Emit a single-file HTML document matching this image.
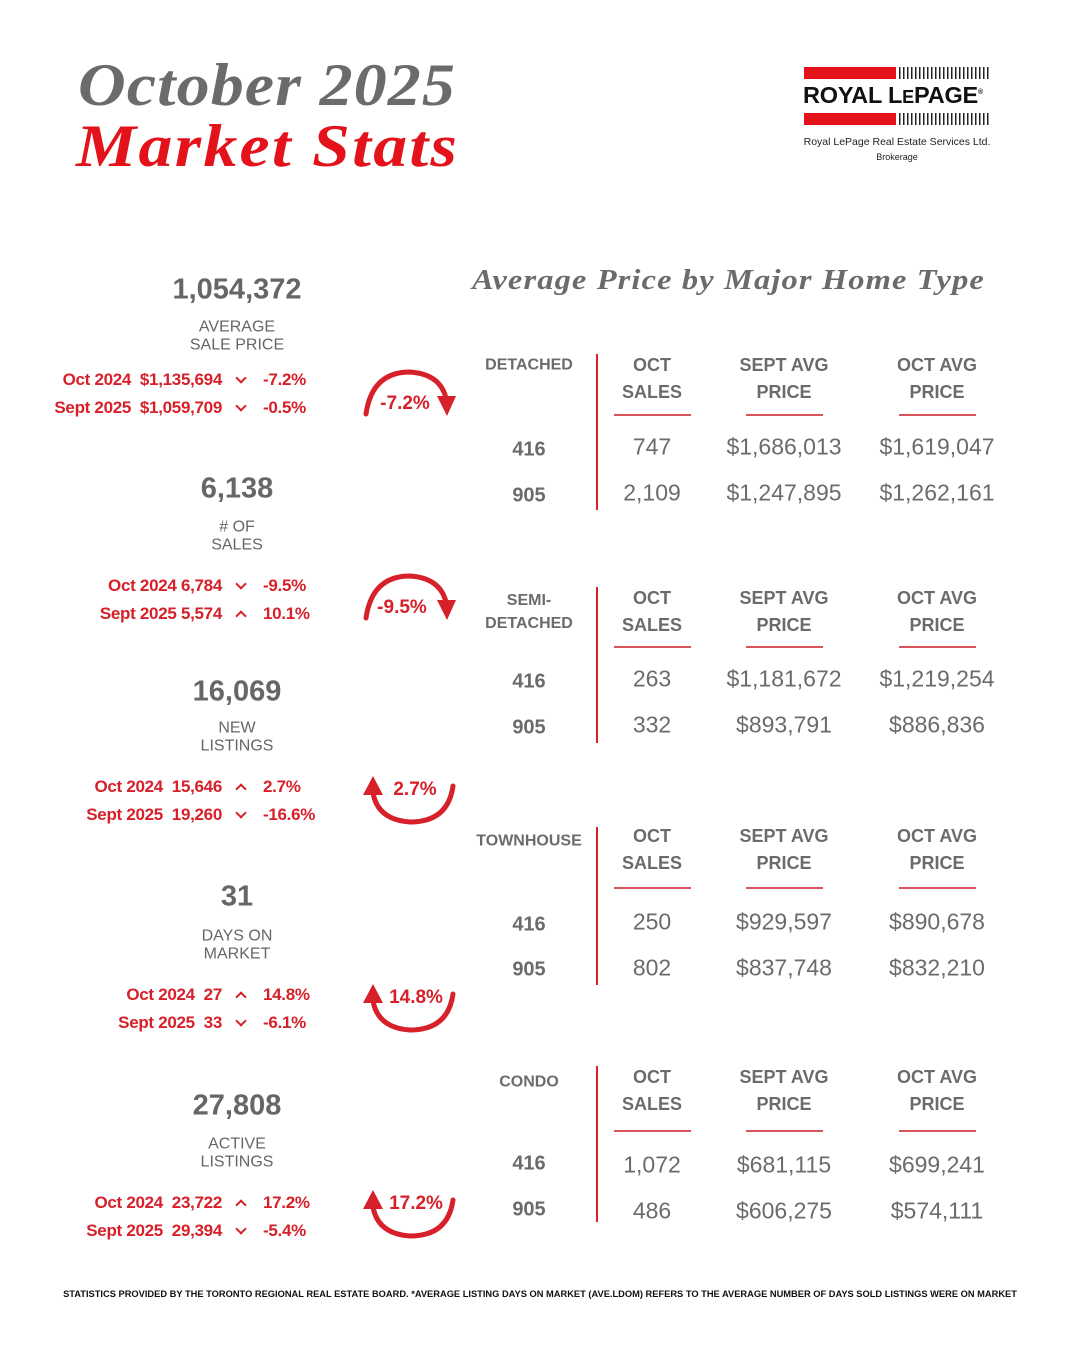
<!DOCTYPE html>
<html><head><meta charset="utf-8"><style>
*{margin:0;padding:0;box-sizing:border-box}
body{width:1080px;height:1350px;background:#fff;position:relative;overflow:hidden;font-family:"Liberation Sans",sans-serif;color:#666}
.a{position:absolute;white-space:nowrap}
.c{position:absolute;white-space:nowrap;transform:translate(-50%,-50%);text-align:center}
.t1{left:78px;top:55px;font:italic bold 60px/1 "Liberation Serif",serif;color:#6b6b6b;letter-spacing:1px;transform-origin:0 0;transform:scaleX(1.10)}
.t2{left:76px;top:116px;font:italic bold 60px/1 "Liberation Serif",serif;color:#e3121b;letter-spacing:2px;transform-origin:0 0;transform:scaleX(1.13)}
.big{font-size:29px;font-weight:bold;color:#666}
.lab{font-size:16px;color:#666;line-height:17.5px}
.red{font-size:17px;font-weight:bold;color:#d6202a;letter-spacing:-0.3px}
.ar{font-size:19px;font-weight:bold;color:#d6202a}
.h{font-size:18px;font-weight:bold;color:#6b6b6b;line-height:27px}
.ty{font-size:16px;font-weight:bold;color:#6b6b6b;line-height:23px}
.rw{font-size:20px;font-weight:bold;color:#6b6b6b}
.v{font-size:23px;color:#6b6b6b}
.ul{position:absolute;height:2px;background:#d9545b}
.vl{position:absolute;width:2px;background:#d6202a;left:596px}
.dn,.up{position:absolute;width:8px;height:8px;border-right:2px solid #d6202a;border-bottom:2px solid #d6202a}
.dn{transform:rotate(45deg)}
.up{transform:rotate(-135deg)}
</style></head><body>
<div class="a t1">October 2025</div>
<div class="a t2">Market Stats</div>

<!-- logo -->
<div class="a" style="left:804px;top:67px;width:92px;height:12px;background:#e3121b"></div>
<div class="a" style="left:804px;top:113px;width:92px;height:12px;background:#e3121b"></div>
<div class="a" style="left:899px;top:67px;width:92px;height:12px;background:repeating-linear-gradient(90deg,#222 0 1.5px,#fff 1.5px 4px)"></div>
<div class="a" style="left:899px;top:113px;width:92px;height:12px;background:repeating-linear-gradient(90deg,#222 0 1.5px,#fff 1.5px 4px)"></div>
<div class="a" style="left:803px;top:84px;font:bold 23.5px/1 'Liberation Sans',sans-serif;color:#111;letter-spacing:-0.2px">ROYAL L<span style="font-size:18px">E</span>PAGE<sup style="font-size:7px">®</sup></div>
<div class="c" style="left:897px;top:142px;font-size:10.5px;color:#222">Royal LePage Real Estate Services Ltd.</div>
<div class="c" style="left:897px;top:157px;font-size:9px;color:#222">Brokerage</div>

<div class="a" style="left:472px;top:266px;font:italic bold 29px/1 'Liberation Serif',serif;color:#6b6b6b;letter-spacing:1px;transform-origin:0 0;transform:scaleX(1.12)">Average Price by Major Home Type</div>

<!-- left stats -->
<div class="c big" style="left:237px;top:290px">1,054,372</div>
<div class="c lab" style="left:237px;top:336px">AVERAGE<br>SALE PRICE</div>
<div class="a red" style="right:858px;top:370px">Oct 2024&nbsp; $1,135,694</div><div class="dn" style="left:237px;top:374px"></div><div class="a red" style="left:263px;top:370px">-7.2%</div>
<div class="a red" style="right:858px;top:398px">Sept 2025&nbsp; $1,059,709</div><div class="dn" style="left:237px;top:402px"></div><div class="a red" style="left:263px;top:398px">-0.5%</div>

<div class="c big" style="left:237px;top:489px">6,138</div>
<div class="c lab" style="left:237px;top:536px"># OF<br>SALES</div>
<div class="a red" style="right:858px;top:576px">Oct 2024 6,784</div><div class="dn" style="left:237px;top:580px"></div><div class="a red" style="left:263px;top:576px">-9.5%</div>
<div class="a red" style="right:858px;top:604px">Sept 2025 5,574</div><div class="up" style="left:237px;top:612px"></div><div class="a red" style="left:263px;top:604px">10.1%</div>

<div class="c big" style="left:237px;top:692px">16,069</div>
<div class="c lab" style="left:237px;top:737px">NEW<br>LISTINGS</div>
<div class="a red" style="right:858px;top:777px">Oct 2024&nbsp; 15,646</div><div class="up" style="left:237px;top:785px"></div><div class="a red" style="left:263px;top:777px">2.7%</div>
<div class="a red" style="right:858px;top:805px">Sept 2025&nbsp; 19,260</div><div class="dn" style="left:237px;top:809px"></div><div class="a red" style="left:263px;top:805px">-16.6%</div>

<div class="c big" style="left:237px;top:897px">31</div>
<div class="c lab" style="left:237px;top:945px">DAYS ON<br>MARKET</div>
<div class="a red" style="right:858px;top:985px">Oct 2024&nbsp; 27</div><div class="up" style="left:237px;top:993px"></div><div class="a red" style="left:263px;top:985px">14.8%</div>
<div class="a red" style="right:858px;top:1013px">Sept 2025&nbsp; 33</div><div class="dn" style="left:237px;top:1017px"></div><div class="a red" style="left:263px;top:1013px">-6.1%</div>

<div class="c big" style="left:237px;top:1106px">27,808</div>
<div class="c lab" style="left:237px;top:1153px">ACTIVE<br>LISTINGS</div>
<div class="a red" style="right:858px;top:1193px">Oct 2024&nbsp; 23,722</div><div class="up" style="left:237px;top:1201px"></div><div class="a red" style="left:263px;top:1193px">17.2%</div>
<div class="a red" style="right:858px;top:1221px">Sept 2025&nbsp; 29,394</div><div class="dn" style="left:237px;top:1225px"></div><div class="a red" style="left:263px;top:1221px">-5.4%</div>

<!-- arrows -->
<svg class="a" style="left:0;top:0" width="1080" height="1350">
<g fill="none" stroke="#d6202a" stroke-width="5" stroke-linecap="round">
<path d="M366 414 Q372 372 410 372 Q440 374 446 398"/>
<path d="M366 618 Q372 576 410 576 Q440 578 446 602"/>
<path d="M453 786 Q448 822 410 822 Q378 820 373 793"/>
<path d="M453 994 Q448 1030 410 1030 Q378 1028 373 1001"/>
<path d="M453 1200 Q448 1236 410 1236 Q378 1234 373 1207"/>
</g>
<g fill="#d6202a">
<polygon points="437,396 456,396 447,416"/>
<polygon points="437,600 456,600 447,620"/>
<polygon points="363,795 383,795 373,776"/>
<polygon points="363,1003 383,1003 373,984"/>
<polygon points="363,1209 383,1209 373,1190"/>
</g>
</svg>
<div class="c ar" style="left:405px;top:404px">-7.2%</div>
<div class="c ar" style="left:402px;top:608px">-9.5%</div>
<div class="c ar" style="left:415px;top:790px">2.7%</div>
<div class="c ar" style="left:416px;top:998px">14.8%</div>
<div class="c ar" style="left:416px;top:1204px">17.2%</div>

<!-- detached -->
<div class="vl" style="top:354px;height:156px"></div>
<div class="c ty" style="left:529px;top:365px">DETACHED</div>
<div class="c h" style="left:652px;top:379px">OCT<br>SALES</div>
<div class="c h" style="left:784px;top:379px">SEPT AVG<br>PRICE</div>
<div class="c h" style="left:937px;top:379px">OCT AVG<br>PRICE</div>
<div class="ul" style="left:614px;width:77px;top:414px"></div><div class="ul" style="left:746px;width:77px;top:414px"></div><div class="ul" style="left:899px;width:77px;top:414px"></div>
<div class="c rw" style="left:529px;top:450px">416</div><div class="c v" style="left:652px;top:447px">747</div><div class="c v" style="left:784px;top:447px">$1,686,013</div><div class="c v" style="left:937px;top:447px">$1,619,047</div>
<div class="c rw" style="left:529px;top:496px">905</div><div class="c v" style="left:652px;top:493px">2,109</div><div class="c v" style="left:784px;top:493px">$1,247,895</div><div class="c v" style="left:937px;top:493px">$1,262,161</div>

<!-- semi -->
<div class="vl" style="top:587px;height:156px"></div>
<div class="c ty" style="left:529px;top:612px">SEMI-<br>DETACHED</div>
<div class="c h" style="left:652px;top:612px">OCT<br>SALES</div>
<div class="c h" style="left:784px;top:612px">SEPT AVG<br>PRICE</div>
<div class="c h" style="left:937px;top:612px">OCT AVG<br>PRICE</div>
<div class="ul" style="left:614px;width:77px;top:646px"></div><div class="ul" style="left:746px;width:77px;top:646px"></div><div class="ul" style="left:899px;width:77px;top:646px"></div>
<div class="c rw" style="left:529px;top:682px">416</div><div class="c v" style="left:652px;top:679px">263</div><div class="c v" style="left:784px;top:679px">$1,181,672</div><div class="c v" style="left:937px;top:679px">$1,219,254</div>
<div class="c rw" style="left:529px;top:728px">905</div><div class="c v" style="left:652px;top:725px">332</div><div class="c v" style="left:784px;top:725px">$893,791</div><div class="c v" style="left:937px;top:725px">$886,836</div>

<!-- townhouse -->
<div class="vl" style="top:827px;height:158px"></div>
<div class="c ty" style="left:529px;top:841px">TOWNHOUSE</div>
<div class="c h" style="left:652px;top:850px">OCT<br>SALES</div>
<div class="c h" style="left:784px;top:850px">SEPT AVG<br>PRICE</div>
<div class="c h" style="left:937px;top:850px">OCT AVG<br>PRICE</div>
<div class="ul" style="left:614px;width:77px;top:887px"></div><div class="ul" style="left:746px;width:77px;top:887px"></div><div class="ul" style="left:899px;width:77px;top:887px"></div>
<div class="c rw" style="left:529px;top:925px">416</div><div class="c v" style="left:652px;top:922px">250</div><div class="c v" style="left:784px;top:922px">$929,597</div><div class="c v" style="left:937px;top:922px">$890,678</div>
<div class="c rw" style="left:529px;top:970px">905</div><div class="c v" style="left:652px;top:968px">802</div><div class="c v" style="left:784px;top:968px">$837,748</div><div class="c v" style="left:937px;top:968px">$832,210</div>

<!-- condo -->
<div class="vl" style="top:1066px;height:156px"></div>
<div class="c ty" style="left:529px;top:1082px">CONDO</div>
<div class="c h" style="left:652px;top:1091px">OCT<br>SALES</div>
<div class="c h" style="left:784px;top:1091px">SEPT AVG<br>PRICE</div>
<div class="c h" style="left:937px;top:1091px">OCT AVG<br>PRICE</div>
<div class="ul" style="left:614px;width:77px;top:1130px"></div><div class="ul" style="left:746px;width:77px;top:1130px"></div><div class="ul" style="left:899px;width:77px;top:1130px"></div>
<div class="c rw" style="left:529px;top:1164px">416</div><div class="c v" style="left:652px;top:1165px">1,072</div><div class="c v" style="left:784px;top:1165px">$681,115</div><div class="c v" style="left:937px;top:1165px">$699,241</div>
<div class="c rw" style="left:529px;top:1210px">905</div><div class="c v" style="left:652px;top:1211px">486</div><div class="c v" style="left:784px;top:1211px">$606,275</div><div class="c v" style="left:937px;top:1211px">$574,111</div>

<div class="c" style="left:540px;top:1294px;font-size:9.3px;font-weight:bold;color:#111">STATISTICS PROVIDED BY THE TORONTO REGIONAL REAL ESTATE BOARD. *AVERAGE LISTING DAYS ON MARKET (AVE.LDOM) REFERS TO THE AVERAGE NUMBER OF DAYS SOLD LISTINGS WERE ON MARKET</div>
</body></html>
